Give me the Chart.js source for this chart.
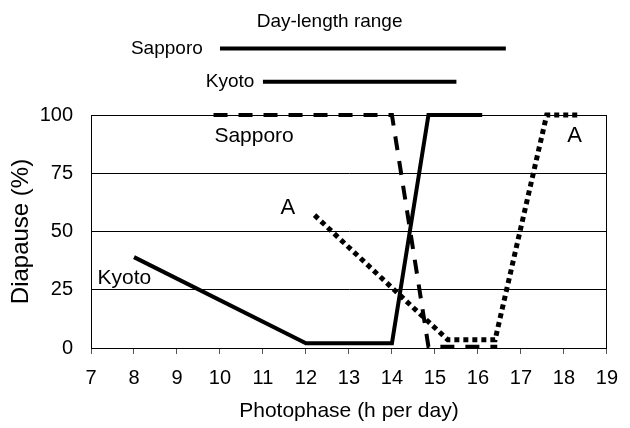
<!DOCTYPE html>
<html>
<head>
<meta charset="utf-8">
<script src="https://cdn.jsdelivr.net/npm/chart.js@4"></script>
<style>
  html, body { margin: 0; padding: 0; background: #fff; }
  #wrap { width: 630px; height: 428px; }
</style>
</head>
<body>
<div id="wrap"><canvas id="chart" width="630" height="428"></canvas></div>
<script>
// ---- Data ----
const kyotoX = [8, 12, 14, 14.85, 16.1];
const kyotoY = [39, 2, 2, 100, 100];

const sapporoX = [9.85, 14, 14.85, 16.45];
const sapporoY = [100, 100, 0.5, 0.5];

const lineAX = [12.2, 14.05, 15.3, 16.4, 17.6, 18.4];
const lineAY = [57, 25, 3.5, 3.5, 100, 100];

// day-length ranges drawn above the plot (x = hours, y = level above 100%)
const sapporoRangeX = [10, 16.65];
const sapporoRangeY = [128.5, 128.5];
const kyotoRangeX = [11, 15.5];
const kyotoRangeY = [114.3, 114.3];

const xTicksMin = 7, xTicksMax = 19;
const yTicks = [0, 25, 50, 75, 100];

// text labels: [text, x, y, align, size]
const labels = [
  ["Day-length range", 12.55, 140, "center", 19],
  ["Sapporo", 9.6, 128.5, "right", 19],
  ["Kyoto", 10.8, 114.3, "right", 19],
  ["Sapporo", 9.87, 91, "left", 21],
  ["Kyoto", 7.15, 30, "left", 21],
  ["A", 11.58, 60, "center", 22],
  ["A", 18.25, 91, "center", 22],
];

const FONT = "'Liberation Sans', Arial, sans-serif";

function pts(xs, ys) {
  return xs.map((x, i) => ({ x, y: ys[i] }));
}

function lineSet(xs, ys, width, dash) {
  return {
    data: pts(xs, ys),
    borderColor: "#000",
    borderWidth: width,
    borderDash: dash,
    borderCapStyle: "butt",
    borderJoinStyle: "miter",
    pointRadius: 0,
    tension: 0,
    fill: false,
    clip: false,
  };
}

// ---- Text labels plugin ----
const textLabels = {
  id: "textLabels",
  afterDatasetsDraw(chart) {
    const { ctx, scales: { x, y } } = chart;
    ctx.save();
    ctx.fillStyle = "#000";
    ctx.textBaseline = "middle";
    for (const [t, lx, ly, align, size] of labels) {
      ctx.font = `${size}px ${FONT}`;
      ctx.textAlign = align;
      ctx.fillText(t, x.getPixelForValue(lx), y.getPixelForValue(ly));
    }
    ctx.restore();
  },
};

new Chart(document.getElementById("chart"), {
  type: "line",
  data: {
    datasets: [
      lineSet(kyotoX, kyotoY, 4, []),
      lineSet(sapporoX, sapporoY, 4, [14, 11]),
      lineSet(lineAX, lineAY, 5, [5, 4]),
      lineSet(sapporoRangeX, sapporoRangeY, 4, []),
      lineSet(kyotoRangeX, kyotoRangeY, 4, []),
    ],
  },
  options: {
    responsive: false,
    animation: false,
    layout: { padding: { top: 115, left: 0, right: 12, bottom: 0 } },
    plugins: { legend: { display: false }, tooltip: { enabled: false } },
    scales: {
      x: {
        type: "linear",
        min: xTicksMin,
        max: xTicksMax,
        afterFit: s => { s.height = 80; },
        ticks: { stepSize: 1, color: "#000", padding: 12, maxRotation: 0, font: { family: FONT, size: 20 } },
        grid: { drawOnChartArea: false, drawTicks: true, tickLength: 6, color: "#555" },
        border: { display: true, color: "#000", width: 1 },
        title: { display: true, text: "Photophase (h per day)", color: "#000", font: { family: FONT, size: 21 }, padding: { top: 4, bottom: 4 } },
      },
      y: {
        min: 0,
        max: 100,
        afterFit: s => { s.width = 91; },
        afterBuildTicks: s => { s.ticks = yTicks.map(v => ({ value: v })); },
        ticks: { color: "#000", padding: 18, font: { family: FONT, size: 20 } },
        grid: { drawTicks: false, color: "#000", lineWidth: 1 },
        border: { display: true, color: "#000", width: 1 },
        title: { display: true, text: "Diapause (%)", color: "#000", font: { family: FONT, size: 24 }, padding: { top: 7, bottom: 0 } },
      },
      yR: {
        position: "right",
        min: 0,
        max: 100,
        afterFit: s => { s.width = 0; },
        ticks: { display: false },
        grid: { display: false },
        border: { display: true, color: "#000", width: 1 },
      },
    },
  },
  plugins: [textLabels],
});
</script>
</body>
</html>
